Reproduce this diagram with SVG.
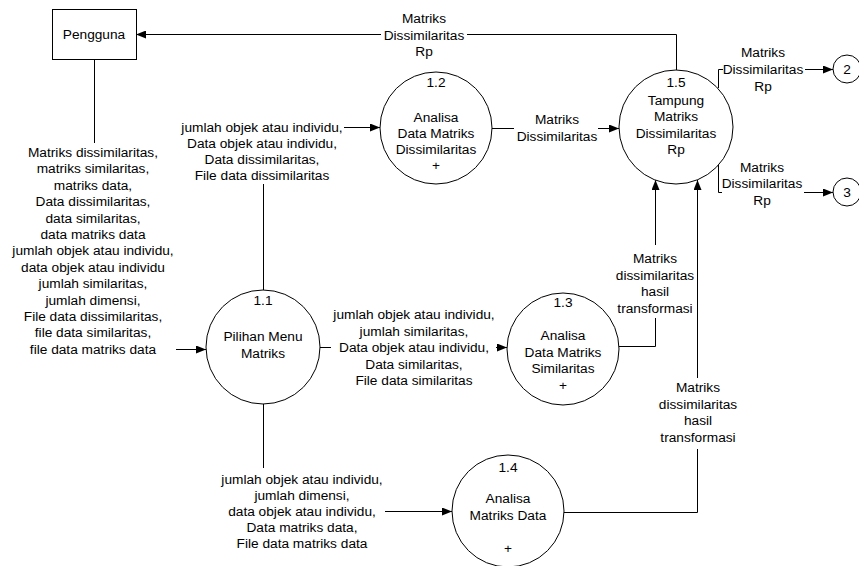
<svg xmlns="http://www.w3.org/2000/svg" width="859" height="566" viewBox="0 0 859 566">
<style>
.t{font-family:"Liberation Sans",Arial,sans-serif;font-size:13.7px;fill:#000;text-anchor:middle;dominant-baseline:central}
.n{fill:#fff;stroke:#000;stroke-width:1}
.c{fill:none;stroke:#000;stroke-width:1}
.a{marker-end:url(#arr)}
</style>
<defs>
<marker id="arr" markerUnits="userSpaceOnUse" markerWidth="10" markerHeight="8" refX="10" refY="4" orient="auto">
<path d="M0,0 L10,4 L0,8 z" fill="#000"/>
</marker>
</defs>
<rect width="859" height="566" fill="#fff"/>

<g id="connectors">
<!-- 1.5 -> Pengguna -->
<path class="c" d="M676.5,70 V34.5 H467"/>
<path class="c a" d="M381,34.5 H136"/>
<text class="t"><tspan x="424" y="18">Matriks</tspan><tspan x="424" y="34.5">Dissimilaritas</tspan><tspan x="424" y="51">Rp</tspan></text>

<!-- Pengguna -> 1.1 -->
<path class="c" d="M94.5,59 V143"/>
<path class="c a" d="M176,349.5 H206"/>
<text class="t"><tspan x="93" y="152">Matriks dissimilaritas,</tspan><tspan x="93" y="168.4">matriks similaritas,</tspan><tspan x="93" y="184.8">matriks data,</tspan><tspan x="93" y="201.2">Data dissimilaritas,</tspan><tspan x="93" y="217.6">data similaritas,</tspan><tspan x="93" y="234">data matriks data</tspan><tspan x="93" y="250.4">jumlah objek atau individu,</tspan><tspan x="93" y="266.8">data objek atau individu</tspan><tspan x="93" y="283.2">jumlah similaritas,</tspan><tspan x="93" y="299.6">jumlah dimensi,</tspan><tspan x="93" y="316">File data dissimilaritas,</tspan><tspan x="93" y="332.4">file data similaritas,</tspan><tspan x="93" y="348.8">file data matriks data</tspan></text>

<!-- 1.1 -> 1.2 -->
<path class="c" d="M263.5,290 V184"/>
<path class="c a" d="M344,127.5 H380"/>
<text class="t"><tspan x="262" y="127">jumlah objek atau individu,</tspan><tspan x="262" y="143">Data objek atau individu,</tspan><tspan x="262" y="159">Data dissimilaritas,</tspan><tspan x="262" y="175">File data dissimilaritas</tspan></text>

<!-- 1.1 -> 1.3 -->
<path class="c" d="M320,347.5 H331"/>
<path class="c a" d="M496,347.5 H507"/>
<text class="t"><tspan x="414" y="314">jumlah objek atau individu,</tspan><tspan x="414" y="330.5">jumlah similaritas,</tspan><tspan x="414" y="347">Data objek atau individu,</tspan><tspan x="414" y="363.5">Data similaritas,</tspan><tspan x="414" y="380">File data similaritas</tspan></text>

<!-- 1.1 -> 1.4 -->
<path class="c" d="M263.5,404 V468"/>
<path class="c a" d="M385,511.5 H452"/>
<text class="t"><tspan x="302" y="479">jumlah objek atau individu,</tspan><tspan x="302" y="495">jumlah dimensi,</tspan><tspan x="302" y="511">data objek atau individu,</tspan><tspan x="302" y="527">Data matriks data,</tspan><tspan x="302" y="543">File data matriks data</tspan></text>

<!-- 1.2 -> 1.5 -->
<path class="c" d="M492,128.5 H514"/>
<path class="c a" d="M598,128.5 H619"/>
<text class="t"><tspan x="557" y="119">Matriks</tspan><tspan x="557" y="136">Dissimilaritas</tspan></text>

<!-- 1.3 -> 1.5 -->
<path class="c" d="M619,346.5 H655.5 V318"/>
<path class="c a" d="M655.5,245 V180"/>
<text class="t"><tspan x="655" y="258">Matriks</tspan><tspan x="655" y="274.5">dissimilaritas</tspan><tspan x="655" y="291">hasil</tspan><tspan x="655" y="307.5">transformasi</tspan></text>

<!-- 1.4 -> 1.5 -->
<path class="c" d="M564,512.5 H697.5 V449"/>
<path class="c a" d="M697.5,378 V180"/>
<text class="t"><tspan x="698" y="387">Matriks</tspan><tspan x="698" y="403.5">dissimilaritas</tspan><tspan x="698" y="420">hasil</tspan><tspan x="698" y="436.5">transformasi</tspan></text>

<!-- 1.5 -> 2 -->
<path class="c" d="M718.5,88 V69.5 H723"/>
<path class="c a" d="M805,69.5 H833"/>
<text class="t"><tspan x="763" y="52">Matriks</tspan><tspan x="763" y="69">Dissimilaritas</tspan><tspan x="763" y="85.5">Rp</tspan></text>

<!-- 1.5 -> 3 -->
<path class="c" d="M718.5,165 V192.5 H722"/>
<path class="c a" d="M804,192.5 H833"/>
<text class="t"><tspan x="762" y="167">Matriks</tspan><tspan x="762" y="183">Dissimilaritas</tspan><tspan x="762" y="199.5">Rp</tspan></text>
</g>

<g id="pengguna">
<rect class="n" x="52.5" y="9.5" width="84" height="50"/>
<text class="t" x="94" y="34">Pengguna</text>
</g>

<g id="p1_1">
<circle class="n" cx="263" cy="347" r="57"/>
<text class="t"><tspan x="263" y="300">1.1</tspan><tspan x="263" y="336">Pilihan Menu</tspan><tspan x="263" y="352.5">Matriks</tspan></text>
</g>

<g id="p1_2">
<circle class="n" cx="436" cy="128" r="56"/>
<text class="t"><tspan x="436" y="82">1.2</tspan><tspan x="436" y="117">Analisa</tspan><tspan x="436" y="133">Data Matriks</tspan><tspan x="436" y="149">Dissimilaritas</tspan><tspan x="436" y="165">+</tspan></text>
</g>

<g id="p1_3">
<circle class="n" cx="563" cy="349" r="56"/>
<text class="t"><tspan x="563" y="302">1.3</tspan><tspan x="563" y="335">Analisa</tspan><tspan x="563" y="351.5">Data Matriks</tspan><tspan x="563" y="368">Similaritas</tspan><tspan x="563" y="385">+</tspan></text>
</g>

<g id="p1_4">
<circle class="n" cx="508" cy="511" r="56"/>
<text class="t"><tspan x="508" y="467">1.4</tspan><tspan x="508" y="498">Analisa</tspan><tspan x="508" y="514.5">Matriks Data</tspan><tspan x="508" y="548">+</tspan></text>
</g>

<g id="p1_5">
<circle class="n" cx="676" cy="127" r="57"/>
<text class="t"><tspan x="676" y="82">1.5</tspan><tspan x="676" y="99.5">Tampung</tspan><tspan x="676" y="116">Matriks</tspan><tspan x="676" y="132.5">Dissimilaritas</tspan><tspan x="676" y="149">Rp</tspan></text>
</g>

<g id="c2">
<circle class="n" cx="847" cy="69" r="14"/>
<text class="t" x="847" y="69">2</text>
</g>

<g id="c3">
<circle class="n" cx="847" cy="192" r="14"/>
<text class="t" x="847" y="192">3</text>
</g>
</svg>
